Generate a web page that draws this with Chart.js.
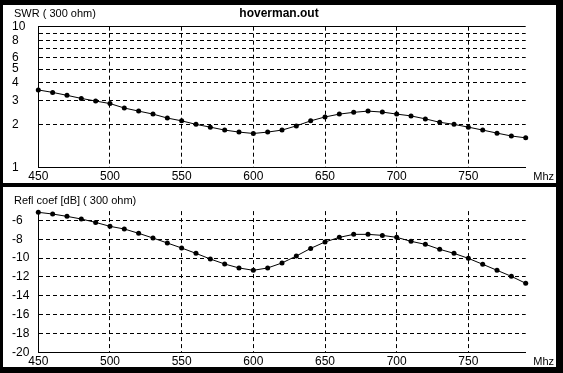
<!DOCTYPE html>
<html>
<head>
<meta charset="utf-8">
<script src="https://cdn.jsdelivr.net/npm/chart.js@4.4.1/dist/chart.umd.min.js"></script>
<style>
    body { margin: 0; background: #000; width: 563px; height: 373px; overflow: hidden; }
    canvas { position: absolute; left: 3px; background: #fff; }
    #graficoSwr { top: 5px; }
    #graficoRefl { top: 187px; }
</style>
</head>
<body>
<canvas id="graficoSwr" width="553" height="178"></canvas>
<canvas id="graficoRefl" width="553" height="180"></canvas>
<script>
const freqs = [450, 460, 470, 480, 490, 500, 510, 520, 530, 540, 550, 560, 570, 580, 590, 600, 610,
    620, 630, 640, 650, 660, 670, 680, 690, 700, 710, 720, 730, 740, 750, 760, 770, 780, 790];
const swr = [3.55, 3.41, 3.25, 3.09, 2.96, 2.84, 2.64, 2.51, 2.39, 2.24, 2.14, 2.02, 1.93, 1.84, 1.78, 1.74, 1.78,
    1.84, 1.97, 2.14, 2.28, 2.39, 2.46, 2.51, 2.47, 2.39, 2.32, 2.21, 2.09, 2.02, 1.93, 1.84, 1.75, 1.67, 1.62];
const reflDb = [-5.13, -5.31, -5.56, -5.84, -6.2, -6.62, -6.9, -7.36, -7.86, -8.39, -8.92, -9.49, -10.09, -10.62, -11.04, -11.29, -11.04,
    -10.51, -9.77, -8.96, -8.28, -7.79, -7.47, -7.47, -7.58, -7.79, -8.21, -8.53, -9.06, -9.49, -10.02, -10.65, -11.29, -11.93, -12.67];

const freqTicks = [450, 500, 550, 600, 650, 700, 750];
const swrTicks = [1, 2, 3, 4, 5, 6, 7, 8, 9, 10];
const swrTickLabels = ['1', '2', '3', '4', '5', '6', '', '8', '', '10'];
const dbTicks = [-20, -18, -16, -14, -12, -10, -8, -6];

const titulo = 'hoverman.out';
const rotuloSwr = 'SWR ( 300 ohm)';
const rotuloRefl = 'Refl coef [dB] ( 300 ohm)';
const rotuloX = 'Mhz';

Chart.defaults.font.family = "'Liberation Sans', Arial, sans-serif";
Chart.defaults.font.size = 11;
Chart.defaults.color = '#000';

const fonteTicks = { family: "'Liberation Sans Narrow', 'Liberation Sans', Arial, sans-serif", size: 12 };
const tracejado = ctx => (ctx.tick && ctx.tick.value !== 10) ? [4, 3] : [];

// textos fixos do painel
const textosPlugin = {
    id: 'textos',
    afterDraw(chart, args, opts) {
        const c = chart.ctx;
        c.save();
        c.fillStyle = '#000';
        c.textBaseline = 'middle';
        c.font = "11px 'Liberation Sans', Arial, sans-serif";
        c.textAlign = 'left';
        c.fillText(opts.rotulo, 11, opts.yRotulo);
        c.textAlign = 'right';
        c.fillText(rotuloX, 551, opts.yMhz);
        if (opts.titulo) {
            c.font = "bold 12px 'Liberation Sans', Arial, sans-serif";
            c.textAlign = 'center';
            c.fillText(opts.titulo, 276, 8.5);
        }
        c.restore();
    }
};

const eixoX = (altura) => ({
    type: 'linear',
    min: 450,
    max: 790,
    afterBuildTicks: s => { s.ticks = freqTicks.map(v => ({ value: v })); },
    afterFit: s => { s.height = altura; },
    ticks: { padding: 2, maxRotation: 0, autoSkip: false, font: fonteTicks },
    grid: { color: '#000', drawTicks: false },
    border: { color: '#000', dash: ctx => ctx.tick ? [4, 3] : [] }
});

const serie = (valores) => ({
    data: freqs.map((f, i) => ({ x: f, y: valores[i] })),
    borderColor: '#000',
    borderWidth: 1,
    backgroundColor: '#000',
    pointRadius: 2.5,
    pointBackgroundColor: '#000',
    pointBorderWidth: 0,
    tension: 0,
    clip: false
});

new Chart(document.getElementById('graficoSwr'), {
    type: 'line',
    data: { datasets: [serie(swr)] },
    options: {
        responsive: false,
        animation: false,
        devicePixelRatio: 1,
        layout: { padding: { left: 9, top: 21.7, right: 30.3, bottom: 0 } },
        plugins: {
            legend: { display: false },
            tooltip: { enabled: false },
            textos: { rotulo: rotuloSwr, yRotulo: 9, yMhz: 171.5, titulo: titulo }
        },
        scales: {
            x: eixoX(15.7),
            y: {
                type: 'logarithmic',
                min: 1,
                max: 10,
                afterBuildTicks: s => { s.ticks = swrTicks.map(v => ({ value: v })); },
                afterFit: s => { s.width = 26.3; },
                ticks: {
                    crossAlign: 'far',
                    autoSkip: false,
                    font: fonteTicks,
                    callback: (v) => swrTickLabels[swrTicks.indexOf(v)]
                },
                grid: { color: '#000', drawTicks: false },
                border: { color: '#000', dash: tracejado }
            }
        }
    },
    plugins: [textosPlugin]
});

new Chart(document.getElementById('graficoRefl'), {
    type: 'line',
    data: { datasets: [serie(reflDb)] },
    options: {
        responsive: false,
        animation: false,
        devicePixelRatio: 1,
        layout: { padding: { left: 9, top: 24.1, right: 30.3, bottom: 0 } },
        plugins: {
            legend: { display: false },
            tooltip: { enabled: false },
            textos: { rotulo: rotuloRefl, yRotulo: 13.5, yMhz: 174.5 }
        },
        scales: {
            x: eixoX(14.7),
            y: {
                type: 'linear',
                min: -20,
                max: -5,
                afterBuildTicks: s => { s.ticks = dbTicks.map(v => ({ value: v })); },
                afterFit: s => { s.width = 26.3; },
                ticks: { crossAlign: 'far', autoSkip: false, font: fonteTicks },
                grid: { color: '#000', drawTicks: false },
                border: { color: '#000', dash: ctx => ctx.tick ? [4, 3] : [] }
            }
        }
    },
    plugins: [textosPlugin]
});
</script>
</body>
</html>
